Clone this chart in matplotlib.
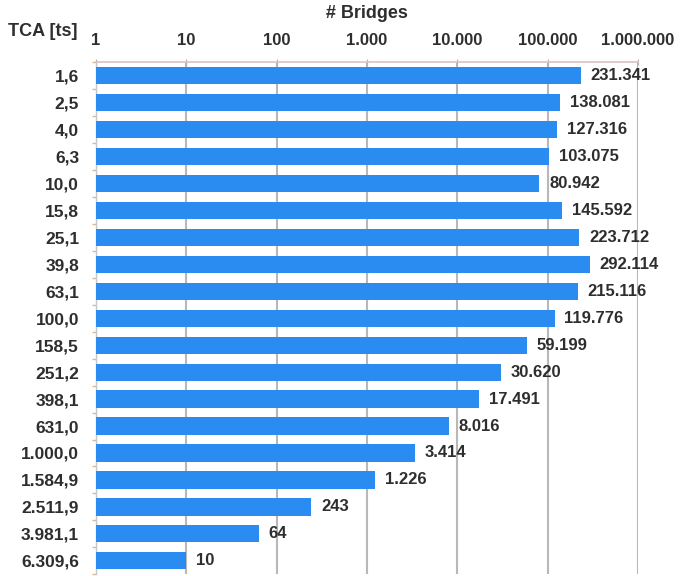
import matplotlib
matplotlib.use("Agg")
import matplotlib.pyplot as plt
from matplotlib.ticker import FixedLocator, NullFormatter

categories = ["1,6", "2,5", "4,0", "6,3", "10,0", "15,8", "25,1", "39,8", "63,1",
              "100,0", "158,5", "251,2", "398,1", "631,0", "1.000,0", "1.584,9",
              "2.511,9", "3.981,1", "6.309,6"]
values = [231341, 138081, 127316, 103075, 80942, 145592, 223712, 292114, 215116,
          119776, 59199, 30620, 17491, 8016, 3414, 1226, 243, 64, 10]
value_labels = ["231.341", "138.081", "127.316", "103.075", "80.942", "145.592",
                "223.712", "292.114", "215.116", "119.776", "59.199", "30.620",
                "17.491", "8.016", "3.414", "1.226", "243", "64", "10"]
xticks = [1, 10, 100, 1000, 10000, 100000, 1000000]
xtick_labels = ["1", "10", "100", "1.000", "10.000", "100.000", "1.000.000"]

plt.rcParams['font.family'] = ['Liberation Sans', 'DejaVu Sans']
txt = "#2e2e2e"
bar_color = "#2a8cf0"

fig = plt.figure(figsize=(6.89, 5.76), dpi=100)
ax = fig.add_axes([0.139, 0.003, 0.787, 0.889])

base = 1
y = list(range(len(categories)))
ax.barh(y, [v - base for v in values], left=base, height=0.64, color=bar_color, zorder=3)
ax.set_xscale('log')
ax.set_xlim(1, 1000000)
ax.set_ylim(len(categories) - 0.5, -0.5)

for yi, v, lab in zip(y, values, value_labels):
    ax.annotate(lab, (v, yi), xytext=(7, 0), textcoords='offset points',
                va='center', ha='left', fontsize=12, fontweight='bold', color=txt, zorder=4)

ax.xaxis.tick_top()
ax.xaxis.set_major_locator(FixedLocator(xticks))
ax.xaxis.set_minor_formatter(NullFormatter())
ax.xaxis.set_minor_locator(FixedLocator([]))
ax.set_xticklabels(xtick_labels, fontsize=12, fontweight='bold', color=txt)
ax.tick_params(axis='x', which='major', length=4, color='#b0b0b0', pad=8, direction='inout')

ax.set_yticks(y)
ax.set_yticklabels(categories, fontsize=12.5, fontweight='bold', color=txt)
ax.tick_params(axis='y', which='major', length=0, pad=12)
ax.set_yticks([i + 0.5 for i in range(-1, len(categories))], minor=True)
ax.tick_params(axis='y', which='minor', length=3, color='#d8b89a', width=1)

ax.grid(axis='x', which='major', color='#b8b8b8', linewidth=1.5, zorder=0)
ax.grid(axis='y', visible=False)

for s in ['bottom', 'right']:
    ax.spines[s].set_visible(False)
ax.spines['top'].set_color('#d9c4c4')
ax.spines['top'].set_linewidth(1.2)
ax.spines['left'].set_color('#c8c8c8')
ax.spines['left'].set_linewidth(1.0)

fig.text(367 / 689, 1 - 14 / 576, "# Bridges", ha='center', va='center',
         fontsize=13, fontweight='bold', color=txt)
fig.text(8 / 689, 1 - 32 / 576, "TCA [ts]", ha='left', va='center',
         fontsize=13, fontweight='bold', color=txt)

fig.savefig("out.png", dpi=100)
